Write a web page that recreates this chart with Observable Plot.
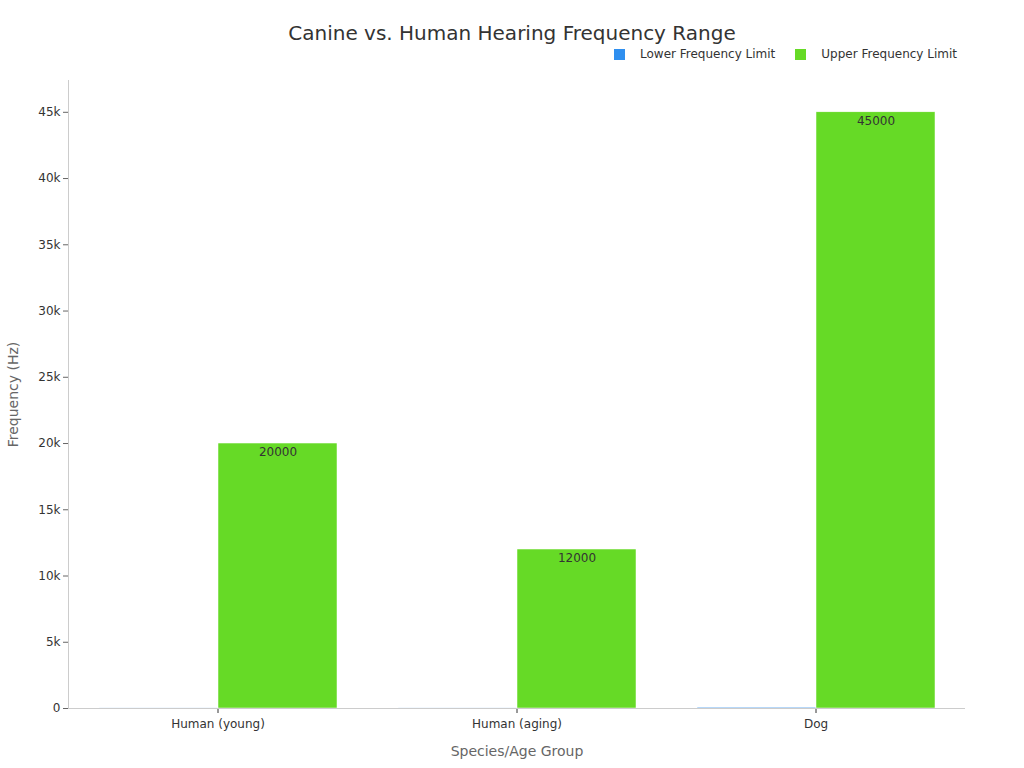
<!DOCTYPE html>
<html><head><meta charset="utf-8">
<script src="https://cdn.jsdelivr.net/npm/d3@7"></script>
<script src="https://cdn.jsdelivr.net/npm/@observablehq/plot@0.6"></script>
<style>
body{margin:0;background:#fff;font-family:"DejaVu Sans",sans-serif;}
#wrap{position:relative;width:1024px;height:768px;}
#title{position:absolute;top:21px;left:0;width:1024px;text-align:center;font-size:20px;color:#333;}
#legend{position:absolute;top:47px;left:614px;font-size:12px;color:#333;display:flex;align-items:center;white-space:nowrap;}
#legend .sw{width:11px;height:11px;display:inline-block;margin-right:15px;}
#legend .it{display:flex;align-items:center;margin-right:20px;}
#chart{position:absolute;top:0;left:0;}
</style></head>
<body><div id="wrap"><div id="chart"></div><div id="title"></div><div id="legend"></div></div>
<script>
const title = "Canine vs. Human Hearing Frequency Range";
const groups = ["Human (young)", "Human (aging)", "Dog"];
const seriesNames = ["Lower Frequency Limit", "Upper Frequency Limit"];
const lowerValues = [20, 20, 67];
const upperValues = [20000, 12000, 45000];
const colors = ["#2F8FEF", "#66DA26"];
const yTicks = [0, 5000, 10000, 15000, 20000, 25000, 30000, 35000, 40000, 45000];

const data = [];
groups.forEach((g, i) => {
  data.push({group: g, series: seriesNames[0], value: lowerValues[i]});
  data.push({group: g, series: seriesNames[1], value: upperValues[i]});
});

document.getElementById("title").textContent = title;
const leg = document.getElementById("legend");
seriesNames.forEach((s, i) => {
  const it = document.createElement("span"); it.className = "it";
  const sw = document.createElement("span"); sw.className = "sw"; sw.style.background = colors[i];
  it.appendChild(sw); it.appendChild(document.createTextNode(s)); leg.appendChild(it);
});

const chart = Plot.plot({
  width: 1024, height: 768,
  marginTop: 80, marginBottom: 60, marginLeft: 67, marginRight: 59,
  style: {fontFamily: "DejaVu Sans, sans-serif", fontSize: "12px", color: "#333", background: "transparent"},
  fx: {domain: groups, padding: 0, label: null},
  x: {domain: seriesNames, paddingInner: 0, paddingOuter: 0.25, axis: null},
  y: {domain: [0, 47400], label: null},
  color: {domain: seriesNames, range: colors},
  marks: [
    Plot.frame({anchor: "left", facetAnchor: "left", stroke: "#ccc"}),
    Plot.axisY({ticks: yTicks, tickFormat: d => d === 0 ? "0" : (d/1000) + "k", tickSize: 5, tickPadding: 3, fontSize: 12, stroke: "#666", color: "#333",
      label: "Frequency (Hz)", labelAnchor: "center", labelArrow: "none", labelOffset: 60}),
    Plot.axisFx({anchor: "bottom", tickSize: 5, tickPadding: 6, fontSize: 12, label: null}),
    Plot.text(["Species/Age Group"], {frameAnchor: "bottom", facetAnchor: "bottom", fx: () => groups[1], dy: 47, fontSize: 14, fill: "#666"}),
    Plot.barY(data, {fx: "group", x: "series", y: "value", fill: "series", stroke: "#fff", strokeWidth: 0.5}),
    Plot.ruleY([0], {stroke: "#ccc"}),
    Plot.text(data.filter(d => d.series === seriesNames[1]), {fx: "group", x: "series", y: "value", text: d => String(d.value), dy: 9, fontSize: 12, fill: "#333"})
  ]
});
document.getElementById("chart").appendChild(chart);
chart.querySelectorAll("text").forEach(t => { if (t.textContent === "Frequency (Hz)") { t.style.fontSize = "14px"; t.setAttribute("fill", "#666"); } });
</script></body></html>
